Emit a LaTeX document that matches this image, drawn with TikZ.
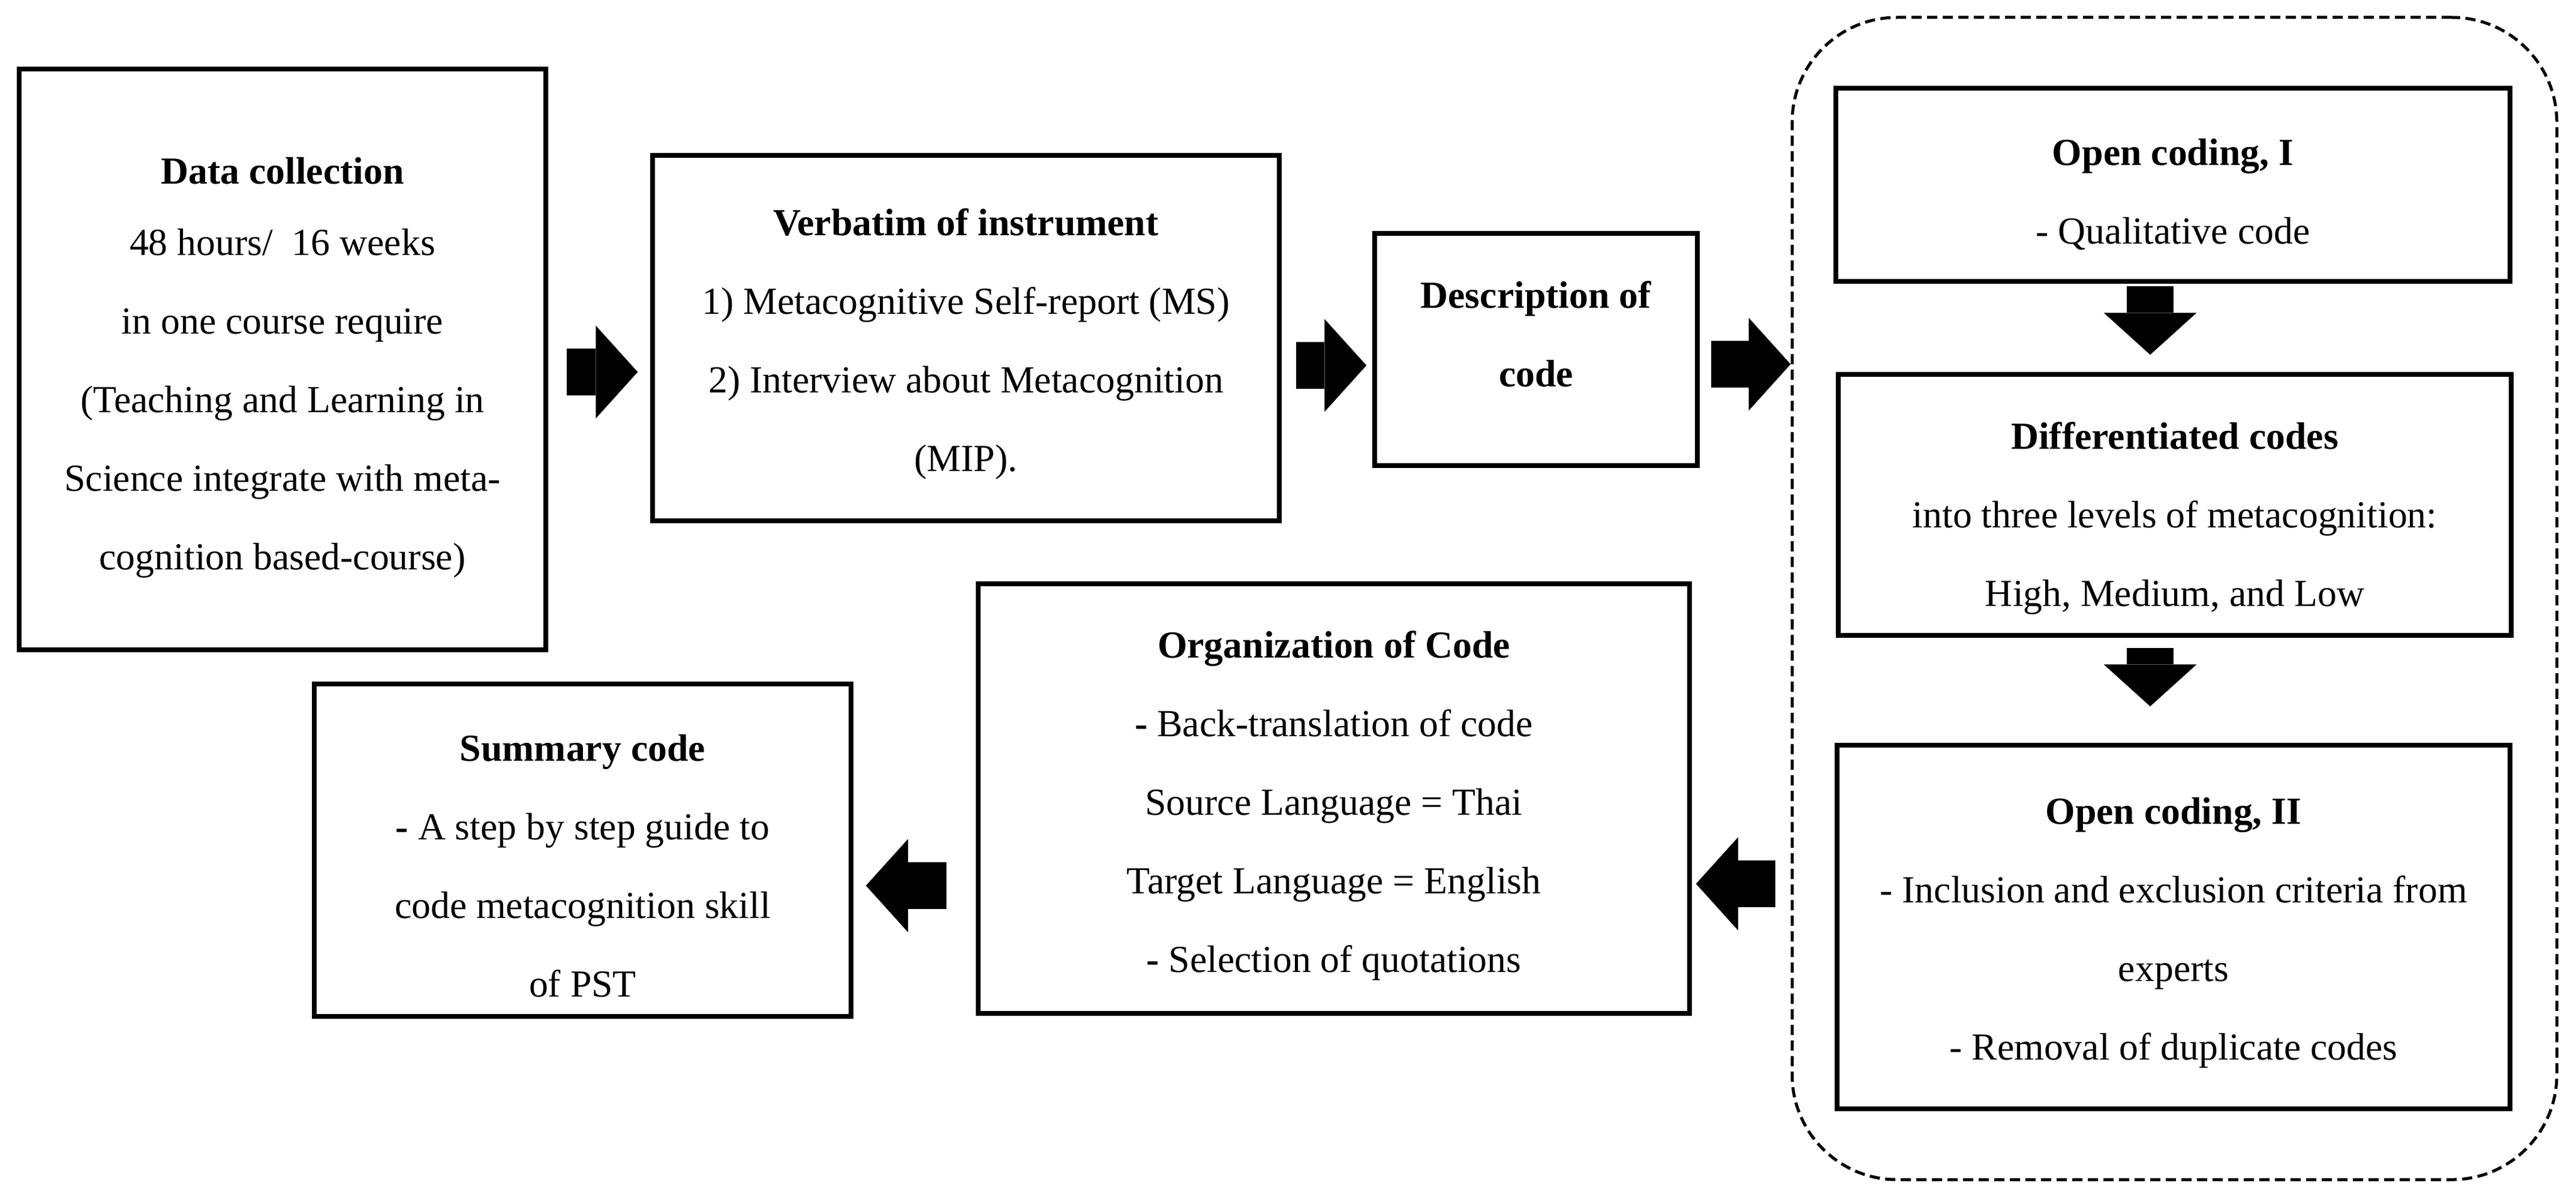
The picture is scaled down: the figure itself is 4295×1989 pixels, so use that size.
\documentclass[tikz,border=0pt]{standalone}
\usepackage{fontspec}
\setmainfont{Liberation Serif}
\usetikzlibrary{arrows.meta}
\begin{document}
\begin{tikzpicture}[x=0.2pt,y=-0.2pt,
	stagebox/.style={draw,line width=1.5pt},
	stagetext/.style={align=center,
		font=\fontsize{12.75pt}{26.2pt}\selectfont},
	fatarrow/.style={line width=15.6pt,
		-{Triangle[width=31pt,length=14pt,line width=0pt]}},
	dashedgroup/.style={draw,line width=1pt,
		dash pattern=on 3.4pt off 1.8pt,rounded corners=35pt}]
	\useasboundingbox (0,0) rectangle (4295,1989);
	% coding stages inside the dashed frame
	\node[dashedgroup,minimum width=255pt,minimum height=387.4pt]
	(group) at (3625.5,997.5) {};
	\node[stagebox,minimum width=224.8pt,minimum height=64.4pt]
	(oc1) at (3623,308) {};
	\node[stagetext] (oc1t) at ([yshift=-3.2pt]oc1.center)
	{\textbf{Open coding, I}\\ - Qualitative code};
	\node[stagebox,minimum width=224.4pt,minimum height=87pt]
	(diff) at (3626,841.5) {};
	\node[stagetext] (difft) at ([yshift=-4.4pt]diff.center)
	{\textbf{Differentiated codes}\\
		into three levels of metacognition:\\
		High, Medium, and Low};
	\node[stagebox,minimum width=224.4pt,minimum height=121.2pt]
	(oc2) at (3624,1545) {};
	\node[stagetext] (oc2t) at ([yshift=-2pt]oc2.center)
	{\textbf{Open coding, II}\\
		- Inclusion and exclusion criteria from\\
		experts\\
		- Removal of duplicate codes};
	% top row
	\node[stagebox,minimum width=175.6pt,minimum height=193.6pt]
	(data) at (471,599) {};
	\node[stagetext] (datat) at ([yshift=-2.8pt]data.center)
	{\textbf{Data collection}\\[-2.4pt]
		48 hours/~ 16 weeks\\
		in one course require\\
		(Teaching and Learning in\\
		Science integrate with meta-\\
		cognition based-course)};
	\node[stagebox,minimum width=209pt,minimum height=121.8pt]
	(verb) at (1610.5,563.5) {};
	\node[stagetext] (verbt) at ([yshift=-2pt]verb.center)
	{\textbf{Verbatim of instrument}\\
		1) Metacognitive Self-report (MS)\\
		2) Interview about Metacognition\\
		(MIP).};
	\node[stagebox,minimum width=107.6pt,minimum height=77.4pt]
	(desc) at (2561,582.5) {};
	\node[stagetext] (desct) at ([yshift=5.2pt]desc.center)
	{\textbf{Description of}\\ \textbf{code}};
	% bottom row
	\node[stagebox,minimum width=237.2pt,minimum height=143.2pt]
	(org) at (2224,1331) {};
	\node[stagetext] (orgt) at ([yshift=-2.4pt]org.center)
	{\textbf{Organization of Code}\\
		\textbf{-} Back-translation of code\\
		Source Language = Thai\\
		Target Language = English\\
		\textbf{-} Selection of quotations};
	\node[stagebox,minimum width=179pt,minimum height=110.8pt]
	(summ) at (971.5,1417) {};
	\node[stagetext] (summt) at ([yshift=-5.2pt]summ.center)
	{\textbf{Summary code}\\
		\textbf{-} A step by step guide to\\
		code metacognition skill\\
		of PST};
	% block arrows
	\draw[fatarrow,shorten <=6.2pt,shorten >=4.2pt]
	([yshift=-4.2pt]data.east) coordinate (a1) -- (a1 -| verb.west);
	\draw[fatarrow,shorten <=4.8pt,shorten >=2pt]
	([yshift=-9.1pt]verb.east) coordinate (a2) -- (a2 -| desc.west);
	\draw[fatarrow,shorten <=3.8pt]
	([yshift=-4.9pt]desc.east) coordinate (a3) -- (a3 -| group.west);
	\draw[fatarrow,shorten <=0.8pt,shorten >=5.8pt]
	([xshift=-7.6pt]oc1.south) coordinate (a4) -- (a4 |- diff.north);
	\draw[fatarrow,shorten <=3.4pt,shorten >=12.2pt]
	([xshift=-8.2pt]diff.south) coordinate (a5) -- (a5 |- oc2.north);
	\draw[fatarrow,shorten <=19.8pt,shorten >=1.4pt]
	([yshift=14.4pt]oc2.west) coordinate (a6) -- (a6 -| org.east);
	\draw[fatarrow,shorten <=9.8pt,shorten >=4.2pt]
	([yshift=-29pt]org.west) coordinate (a7) -- (a7 -| summ.east);
\end{tikzpicture}
\end{document}
